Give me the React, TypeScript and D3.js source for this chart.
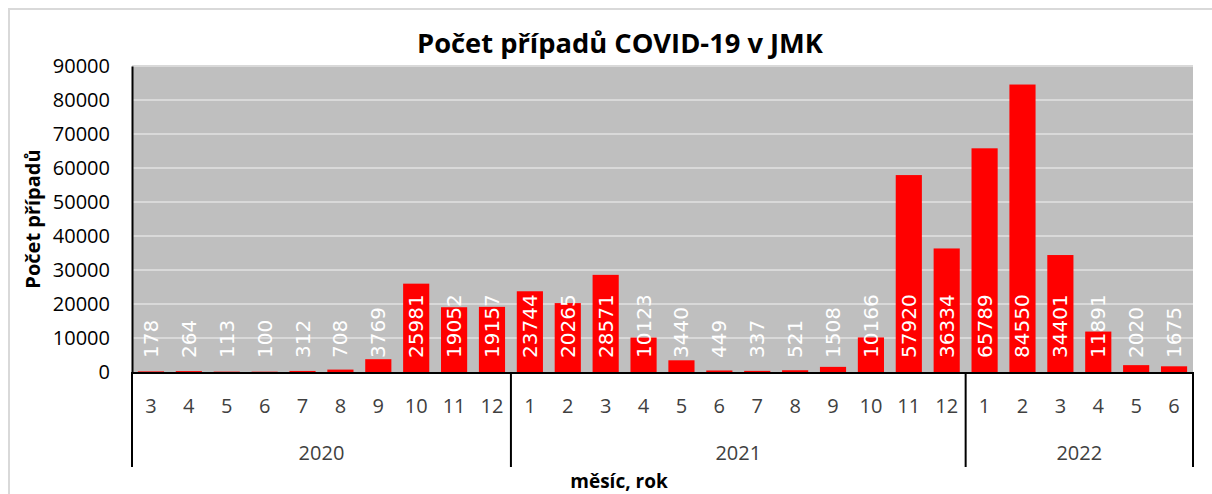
import React, { useEffect, useRef } from 'react';
import * as d3 from 'd3';

// months shown per year
const years = ['2020', '2021', '2022'];
const months2020 = ['3', '4', '5', '6', '7', '8', '9', '10', '11', '12'];
const months2021 = ['1', '2', '3', '4', '5', '6', '7', '8', '9', '10', '11', '12'];
const months2022 = ['1', '2', '3', '4', '5', '6'];

// cases per month
const cases2020 = [178, 264, 113, 100, 312, 708, 3769, 25981, 19052, 19157];
const cases2021 = [23744, 20265, 28571, 10123, 3440, 449, 337, 521, 1508, 10166, 57920, 36334];
const cases2022 = [65789, 84550, 34401, 11891, 2020, 1675];

const yTicks = [0, 10000, 20000, 30000, 40000, 50000, 60000, 70000, 80000, 90000];

const W = 1212;
const H = 494;
const FONT = '"Open Sans", "Noto Sans", sans-serif';

const App = () => {
  const svgRef = useRef<SVGSVGElement>(null);

  useEffect(() => {
    const svg = d3.select(svgRef.current);
    svg.selectAll('*').remove();

    const groups = [
      { year: years[0], months: months2020, values: cases2020 },
      { year: years[1], months: months2021, values: cases2021 },
      { year: years[2], months: months2022, values: cases2022 },
    ];
    const data = groups.flatMap(g =>
      g.months.map((m, i) => ({ key: `${g.year}-${m}`, month: m, year: g.year, value: g.values[i] }))
    );

    const left = 132, right = 1193, top = 66, bottom = 372;

    const x = d3.scaleBand()
      .domain(data.map(d => d.key))
      .range([left, right])
      .paddingInner(0.31)
      .paddingOuter(0.155);

    const y = d3.scaleLinear().domain([0, 90000]).range([bottom, top]);

    // outer frame
    svg.append('rect')
      .attr('x', 9).attr('y', 9)
      .attr('width', W + 20).attr('height', H + 20)
      .attr('fill', 'white')
      .attr('stroke', '#d9d9d9')
      .attr('stroke-width', 2);

    // plot background
    svg.append('rect')
      .attr('x', left).attr('y', top)
      .attr('width', right - left).attr('height', bottom - top)
      .attr('fill', '#bfbfbf');

    // gridlines
    svg.append('g')
      .selectAll('line')
      .data(yTicks.filter(t => t > 0))
      .enter().append('line')
      .attr('x1', left).attr('x2', right)
      .attr('y1', d => y(d)).attr('y2', d => y(d))
      .attr('stroke', '#d9d9d9')
      .attr('stroke-width', 2);

    // bars
    svg.append('g')
      .selectAll('rect')
      .data(data)
      .enter().append('rect')
      .attr('x', d => x(d.key)!)
      .attr('width', x.bandwidth())
      .attr('y', d => y(d.value))
      .attr('height', d => bottom - y(d.value))
      .attr('fill', '#ff0000');

    // data labels (inside base, rotated)
    svg.append('g')
      .selectAll('text')
      .data(data)
      .enter().append('text')
      .attr('transform', d => `translate(${x(d.key)! + x.bandwidth() / 2},${bottom - 14}) rotate(-90)`)
      .attr('dominant-baseline', 'central')
      .attr('font-family', '"DejaVu Sans", sans-serif')
      .attr('font-size', 20)
      .attr('fill', '#ffffff')
      .text(d => d.value);

    // y axis
    const yAxis = svg.append('g')
      .attr('transform', `translate(${left},0)`)
      .call(d3.axisLeft(y).tickValues(yTicks).tickFormat(d3.format('d')).tickSize(0).tickPadding(22));
    yAxis.select('.domain').attr('stroke', '#000').attr('stroke-width', 2);
    yAxis.selectAll('text')
      .attr('font-family', FONT)
      .attr('font-size', 20)
      .attr('fill', '#000');

    // category axis line
    svg.append('line')
      .attr('x1', left).attr('x2', right)
      .attr('y1', bottom + 1).attr('y2', bottom + 1)
      .attr('stroke', '#000').attr('stroke-width', 2);

    // month labels
    svg.append('g')
      .selectAll('text')
      .data(data)
      .enter().append('text')
      .attr('x', d => x(d.key)! + x.bandwidth() / 2)
      .attr('y', 405)
      .attr('text-anchor', 'middle')
      .attr('dominant-baseline', 'central')
      .attr('font-family', FONT)
      .attr('font-size', 20)
      .attr('fill', '#404040')
      .text(d => d.month);

    // year separators and labels
    const step = x.step();
    let start = 0;
    const seps = [left];
    const yearPos: { year: string; cx: number }[] = [];
    groups.forEach(g => {
      const x0 = left + start * step;
      const x1 = left + (start + g.months.length) * step;
      seps.push(x1);
      yearPos.push({ year: g.year, cx: (x0 + x1) / 2 });
      start += g.months.length;
    });

    svg.append('g')
      .selectAll('line')
      .data(seps)
      .enter().append('line')
      .attr('x1', d => d).attr('x2', d => d)
      .attr('y1', bottom).attr('y2', 467)
      .attr('stroke', '#000').attr('stroke-width', 2);

    svg.append('g')
      .selectAll('text')
      .data(yearPos)
      .enter().append('text')
      .attr('x', d => d.cx)
      .attr('y', 452)
      .attr('text-anchor', 'middle')
      .attr('dominant-baseline', 'central')
      .attr('font-family', FONT)
      .attr('font-size', 20)
      .attr('fill', '#404040')
      .text(d => d.year);

    // titles
    svg.append('text')
      .attr('x', 620).attr('y', 42)
      .attr('text-anchor', 'middle')
      .attr('dominant-baseline', 'central')
      .attr('font-family', FONT)
      .attr('font-weight', 'bold')
      .attr('font-size', 27.3)
      .attr('fill', '#000')
      .text('Počet případů COVID-19 v JMK');

    svg.append('text')
      .attr('transform', `translate(32,${(top + bottom) / 2}) rotate(-90)`)
      .attr('text-anchor', 'middle')
      .attr('dominant-baseline', 'central')
      .attr('font-family', FONT)
      .attr('font-weight', 'bold')
      .attr('font-size', 20)
      .attr('fill', '#000')
      .text('Počet případů');

    svg.append('text')
      .attr('x', 619).attr('y', 481)
      .attr('text-anchor', 'middle')
      .attr('dominant-baseline', 'central')
      .attr('font-family', FONT)
      .attr('font-weight', 'bold')
      .attr('font-size', 19)
      .attr('fill', '#000')
      .text('měsíc, rok');
  }, []);

  return (
    <svg
      ref={svgRef}
      width={W}
      height={H}
      style={{ position: 'absolute', left: 0, top: 0, background: '#fff' }}
    />
  );
};

export default App;
